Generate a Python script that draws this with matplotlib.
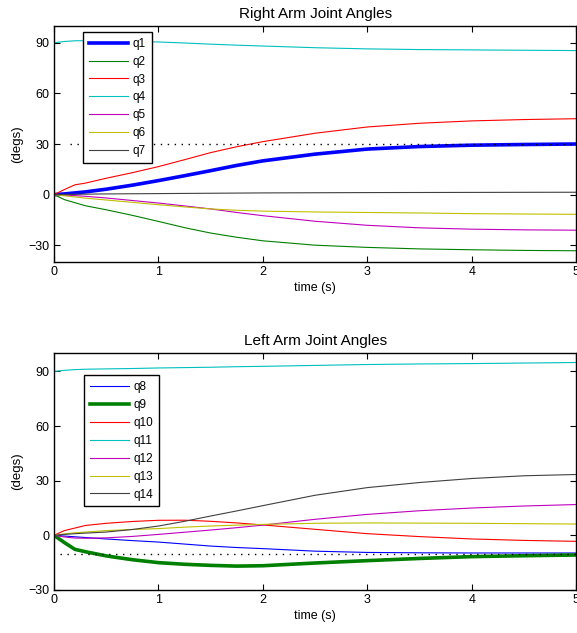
import numpy as np
import matplotlib
matplotlib.use("Agg")
import matplotlib.pyplot as plt

plt.rcParams['font.family'] = ['Liberation Sans', 'DejaVu Sans']

# sample times (s)
t = [0, 0.1, 0.2, 0.3, 0.5, 0.75, 1, 1.25, 1.5, 1.75, 2, 2.5, 3, 3.5, 4, 4.5, 5]

# right arm joint angles (degs)
q1 = [0, 0.4, 1, 1.6, 3.2, 5.6, 8.3, 11.2, 14.2, 17.3, 20, 24, 27, 28.5, 29.3, 29.7, 30]
q2 = [0, -3, -4.8, -6.6, -9, -12.3, -15.9, -19.6, -22.8, -25.3, -27.4, -30, -31.3, -32.2, -32.7, -33.1, -33.3]
q3 = [0, 3, 5.8, 6.8, 9.7, 13, 16.6, 20.7, 24.9, 28.4, 31.4, 36.4, 40.1, 42.3, 43.7, 44.5, 45]
q4 = [90, 90.8, 91.2, 91.3, 91.2, 90.9, 90.5, 89.9, 89.2, 88.6, 88.1, 87.1, 86.4, 86, 85.8, 85.6, 85.4]
q5 = [0, -0.2, -0.6, -1, -2, -3.5, -5, -6.7, -8.5, -10.6, -12.5, -15.8, -18.2, -19.7, -20.5, -20.9, -21.1]
q6 = [0, -0.7, -1.4, -2.1, -3.2, -4.6, -6, -7.3, -8.5, -9.3, -9.8, -10.3, -10.6, -10.9, -11.3, -11.5, -11.7]
q7 = [0, 0.1, 0.2, 0.25, 0.4, 0.5, 0.6, 0.7, 0.8, 0.9, 1.0, 1.1, 1.2, 1.25, 1.3, 1.35, 1.4]

# left arm joint angles (degs)
q8 = [0, -0.4, -0.8, -1.2, -2, -2.9, -3.7, -4.8, -5.9, -6.7, -7.3, -8.7, -9.4, -9.6, -9.7, -9.7, -9.7]
q9 = [0, -4, -7.7, -9, -11.3, -13.4, -15, -15.9, -16.5, -16.9, -16.7, -15.2, -13.9, -12.7, -11.7, -11.2, -10.8]
q10 = [0, 2.6, 4, 5.4, 6.6, 7.6, 8.25, 8.3, 7.7, 6.8, 5.7, 3.3, 0.9, -0.7, -2, -2.8, -3.3]
q11 = [90, 90.6, 91, 91.2, 91.4, 91.6, 91.9, 92.1, 92.3, 92.6, 92.8, 93.3, 93.8, 94.1, 94.3, 94.6, 94.9]
q12 = [0, -0.9, -1.5, -1.6, -1.4, -0.6, 0.5, 1.7, 2.9, 4.2, 5.6, 8.8, 11.5, 13.5, 15, 16.1, 16.9]
q13 = [0, 0.8, 1.4, 1.8, 2.6, 3.2, 3.7, 4.5, 5.1, 5.6, 6, 6.6, 6.8, 6.7, 6.6, 6.4, 6.2]
q14 = [0, 0.5, 0.9, 1.2, 1.8, 3.2, 5.1, 7.7, 10.6, 13.4, 16.3, 22, 26.2, 29, 31.2, 32.7, 33.4]

# target (dotted) lines
right_target = 30
right_target_t = [0.15, 5]
left_target = -10
left_target_t = [0.06, 5]

right_names = ["q1", "q2", "q3", "q4", "q5", "q6", "q7"]
left_names = ["q8", "q9", "q10", "q11", "q12", "q13", "q14"]

# matlab default colours
colors = [(0, 0, 1), (0, 0.5, 0), (1, 0, 0), (0, 0.75, 0.75),
          (0.75, 0, 0.75), (0.75, 0.75, 0), (0.25, 0.25, 0.25)]


def style_axes(ax, ylim, title):
    ax.set_xlim(0, 5)
    ax.set_ylim(*ylim)
    ax.set_xticks([0, 1, 2, 3, 4, 5])
    ax.set_yticks([-30, 0, 30, 60, 90])
    ax.tick_params(direction='in', top=True, right=True, length=4,
                   width=0.8, labelsize=9, pad=3)
    for s in ax.spines.values():
        s.set_linewidth(1.0)
    ax.set_title(title, fontsize=11, pad=6)
    ax.set_xlabel("time (s)", fontsize=9, labelpad=3)
    ax.set_ylabel("(degs)", fontsize=9.5, labelpad=4)


def add_legend(ax, anchor):
    leg = ax.legend(loc='upper left', bbox_to_anchor=anchor,
                    borderaxespad=0, fontsize=8.5, handlelength=3.3,
                    labelspacing=0.5, fancybox=False, framealpha=1,
                    edgecolor='k', borderpad=0.5, handletextpad=0.4)
    leg.get_frame().set_linewidth(1.0)


fig = plt.figure(figsize=(5.77, 6.33), dpi=100)
ax1 = fig.add_axes([0.0936, 0.586, 0.905, 0.373])
ax2 = fig.add_axes([0.0936, 0.068, 0.905, 0.374])

# right arm
for name, ys, c in zip(right_names, [q1, q2, q3, q4, q5, q6, q7], colors):
    lw = 2.6 if name == "q1" else 0.8
    ax1.plot(t, ys, color=c, lw=lw, label=name)
ax1.plot(right_target_t, [right_target] * 2, color='k', lw=1,
         linestyle=(0, (1, 4)))
style_axes(ax1, (-40, 100), "Right Arm Joint Angles")
add_legend(ax1, (0.0556, 0.975))

# left arm
for name, ys, c in zip(left_names, [q8, q9, q10, q11, q12, q13, q14], colors):
    lw = 2.6 if name == "q9" else 0.8
    ax2.plot(t, ys, color=c, lw=lw, label=name)
ax2.plot(left_target_t, [left_target] * 2, color='k', lw=1,
         linestyle=(0, (1, 4)))
style_axes(ax2, (-30, 100), "Left Arm Joint Angles")
add_legend(ax2, (0.0575, 0.907))

fig.savefig("out.png", dpi=100)
